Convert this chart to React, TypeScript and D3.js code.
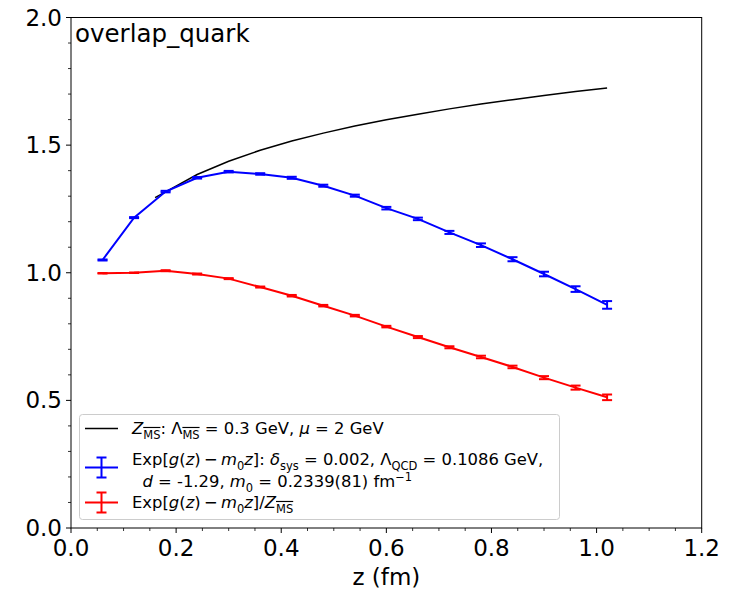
import React from "react";
import * as d3 from "d3";

const zPoints = [0.06, 0.12, 0.18, 0.24, 0.30, 0.36, 0.42, 0.48, 0.54, 0.60, 0.66, 0.72, 0.78, 0.84, 0.90, 0.96, 1.02];
const blueVals = [1.050, 1.216, 1.318, 1.372, 1.396, 1.387, 1.372, 1.341, 1.302, 1.253, 1.211, 1.158, 1.108, 1.053, 0.995, 0.936, 0.874];
const blueErr = [0.002, 0.002, 0.003, 0.003, 0.003, 0.003, 0.004, 0.004, 0.004, 0.005, 0.005, 0.006, 0.007, 0.008, 0.009, 0.011, 0.015];
const redVals = [0.998, 1.000, 1.008, 0.995, 0.977, 0.944, 0.910, 0.871, 0.832, 0.789, 0.748, 0.708, 0.670, 0.631, 0.589, 0.550, 0.512];
const redErr = [0.001, 0.001, 0.002, 0.002, 0.002, 0.002, 0.003, 0.003, 0.003, 0.003, 0.004, 0.004, 0.005, 0.005, 0.006, 0.008, 0.011];
const zBlack = [0.16, 0.18, 0.24, 0.30, 0.36, 0.42, 0.48, 0.54, 0.60, 0.66, 0.72, 0.78, 0.84, 0.90, 0.96, 1.02];
const blackVals = [1.294, 1.317, 1.385, 1.437, 1.480, 1.516, 1.547, 1.575, 1.599, 1.621, 1.642, 1.661, 1.678, 1.694, 1.710, 1.724];

const xTicks = [0, 0.2, 0.4, 0.6, 0.8, 1.0, 1.2];
const yTicks = [0, 0.5, 1.0, 1.5, 2.0];

const FONT = "DejaVu Sans, sans-serif";

type Seg = { t: string; i?: boolean; sub?: boolean; sup?: boolean; over?: boolean };

function Rich({ x, y, segs, size }: { x: number; y: number; segs: Seg[]; size: number }) {
  let off = 0;
  const out: React.ReactNode[] = [];
  segs.forEach((s, k) => {
    const target = s.sub ? size * 0.3 : s.sup ? -size * 0.38 : 0;
    const dy = target - off;
    off = target;
    out.push(
      <tspan
        key={k}
        dy={dy}
        fontStyle={s.i ? "italic" : "normal"}
        fontSize={s.sub || s.sup ? size * 0.7 : size}
        style={s.over ? { textDecoration: "overline" } : undefined}
      >
        {s.t}
      </tspan>
    );
  });
  return (
    <text x={x} y={y} fontFamily={FONT} fontSize={size} fill="#000" xmlSpace="preserve" style={{ whiteSpace: "pre" }}>
      {out}
    </text>
  );
}

export default function App() {
  const W = 733, H = 590;
  const x = d3.scaleLinear().domain([0, 1.2]).range([71, 701.7]);
  const y = d3.scaleLinear().domain([0, 2]).range([528, 17.5]);
  const line = d3.line<[number, number]>().x(d => x(d[0])).y(d => y(d[1]));
  const xMinor = d3.range(0, 1.2001, 0.05).filter(v => !xTicks.some(t => Math.abs(t - v) < 1e-6));
  const yMinor = d3.range(0, 2.0001, 0.1).filter(v => !yTicks.some(t => Math.abs(t - v) < 1e-6));

  const blackPts = zBlack.map((z, i) => [z, blackVals[i]] as [number, number]);
  const bluePts = zPoints.map((z, i) => [z, blueVals[i]] as [number, number]);
  const redPts = zPoints.map((z, i) => [z, redVals[i]] as [number, number]);

  const errBars = (vals: number[], errs: number[], color: string) =>
    zPoints.map((z, i) => {
      const cx = x(z);
      const y1 = y(vals[i] + errs[i]);
      const y2 = y(vals[i] - errs[i]);
      return (
        <g key={i} stroke={color} strokeWidth={2}>
          <line x1={cx} x2={cx} y1={y1} y2={y2} />
          <line x1={cx - 5} x2={cx + 5} y1={y1} y2={y1} />
          <line x1={cx - 5} x2={cx + 5} y1={y2} y2={y2} />
        </g>
      );
    });

  const legSize = 16.4;
  const tx = 132;
  const M = "\u2009−\u2009";

  return (
    <svg width={W} height={H} style={{ position: "absolute", left: 0, top: 0 }} fontFamily={FONT}>
      <rect width={W} height={H} fill="#fff" />
      {/* data */}
      <path d={line(blackPts) || ""} fill="none" stroke="#000" strokeWidth={1.5} />
      <path d={line(bluePts) || ""} fill="none" stroke="#0000ff" strokeWidth={2} />
      {errBars(blueVals, blueErr, "#0000ff")}
      <path d={line(redPts) || ""} fill="none" stroke="#ff0000" strokeWidth={2} />
      {errBars(redVals, redErr, "#ff0000")}

      {/* frame */}
      <rect x={x(0)} y={y(2)} width={x(1.2) - x(0)} height={y(0) - y(2)} fill="none" stroke="#000" strokeWidth={1} />

      {/* x ticks */}
      {xTicks.map(t => (
        <g key={"xt" + t}>
          <line x1={x(t)} x2={x(t)} y1={y(0)} y2={y(0) + 5} stroke="#000" strokeWidth={1} />
          <text x={x(t)} y={y(0) + 28} textAnchor="middle" fontSize={23} fill="#000">{t.toFixed(1)}</text>
        </g>
      ))}
      {xMinor.map(t => (
        <line key={"xm" + t} x1={x(t)} x2={x(t)} y1={y(0)} y2={y(0) + 3} stroke="#000" strokeWidth={0.8} />
      ))}
      {/* y ticks */}
      {yTicks.map(t => (
        <g key={"yt" + t}>
          <line x1={x(0) - 5} x2={x(0)} y1={y(t)} y2={y(t)} stroke="#000" strokeWidth={1} />
          <text x={x(0) - 9} y={y(t) + 8} textAnchor="end" fontSize={23} fill="#000">{t.toFixed(1)}</text>
        </g>
      ))}
      {yMinor.map(t => (
        <line key={"ym" + t} x1={x(0) - 3} x2={x(0)} y1={y(t)} y2={y(t)} stroke="#000" strokeWidth={0.8} />
      ))}
      <text x={(x(0) + x(1.2)) / 2} y={585} textAnchor="middle" fontSize={23} fill="#000">z (fm)</text>

      {/* title */}
      <text x={75} y={41.5} fontSize={24.5} fill="#000">overlap_quark</text>

      {/* legend */}
      <rect x={79.5} y={414.5} width={480} height={105} rx={3} fill="#fff" fillOpacity={0.8} stroke="#cccccc" strokeWidth={1} />
      <line x1={85} x2={118} y1={428.5} y2={428.5} stroke="#000" strokeWidth={1.5} />
      <g stroke="#0000ff" strokeWidth={2}>
        <line x1={85} x2={118} y1={467.5} y2={467.5} />
        <line x1={101.5} x2={101.5} y1={457.5} y2={477.5} />
        <line x1={96.5} x2={106.5} y1={457.5} y2={457.5} />
        <line x1={96.5} x2={106.5} y1={477.5} y2={477.5} />
      </g>
      <g stroke="#ff0000" strokeWidth={2}>
        <line x1={85} x2={118} y1={502.5} y2={502.5} />
        <line x1={101.5} x2={101.5} y1={492.5} y2={512.5} />
        <line x1={96.5} x2={106.5} y1={492.5} y2={492.5} />
        <line x1={96.5} x2={106.5} y1={512.5} y2={512.5} />
      </g>
      <Rich x={tx} y={434} size={legSize} segs={[
        { t: "Z", i: true }, { t: "MS", sub: true, over: true }, { t: ": Λ" }, { t: "MS", sub: true, over: true },
        { t: " = 0.3 GeV, " }, { t: "μ", i: true }, { t: " = 2 GeV" },
      ]} />
      <Rich x={tx} y={465} size={legSize} segs={[
        { t: "Exp[" }, { t: "g", i: true }, { t: "(" }, { t: "z", i: true }, { t: ")" + M }, { t: "m", i: true }, { t: "0", sub: true },
        { t: "z", i: true }, { t: "]: " }, { t: "δ", i: true }, { t: "sys", sub: true }, { t: " = 0.002, Λ" }, { t: "QCD", sub: true },
        { t: " = 0.1086 GeV," },
      ]} />
      <Rich x={tx} y={487} size={legSize} segs={[
        { t: "  " }, { t: "d", i: true }, { t: " = -1.29, " }, { t: "m", i: true }, { t: "0", sub: true }, { t: " = 0.2339(81) fm" }, { t: "−1", sup: true },
      ]} />
      <Rich x={tx} y={508} size={legSize} segs={[
        { t: "Exp[" }, { t: "g", i: true }, { t: "(" }, { t: "z", i: true }, { t: ")" + M }, { t: "m", i: true }, { t: "0", sub: true },
        { t: "z", i: true }, { t: "]/" }, { t: "Z", i: true }, { t: "MS", sub: true, over: true },
      ]} />
    </svg>
  );
}
